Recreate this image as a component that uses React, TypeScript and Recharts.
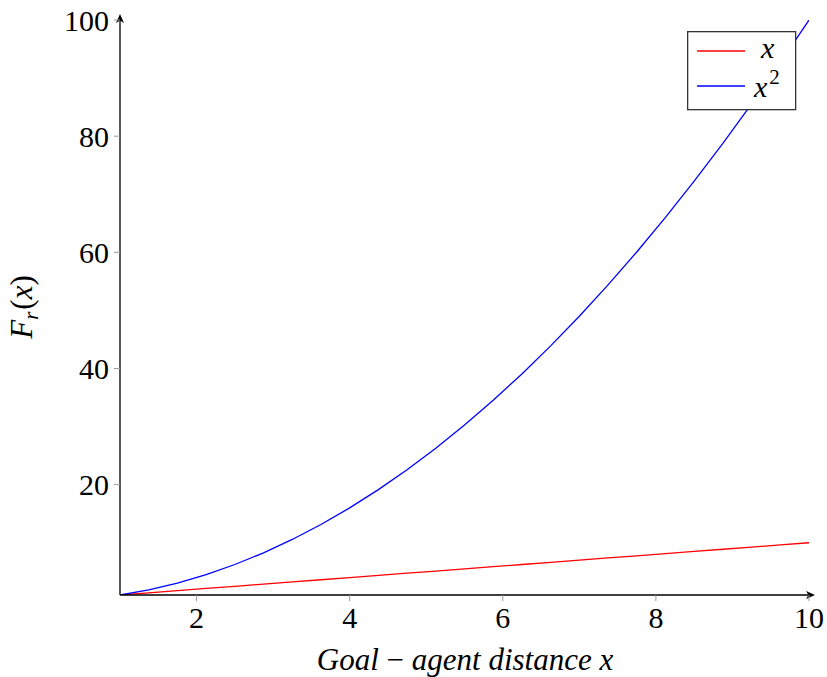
import * as React from "react";
import { LineChart, Line, XAxis, YAxis } from "recharts";

// ── Data (25 samples on [1, 10]) ───────────────────────────────────────
const xs = [
  1, 1.375, 1.75, 2.125, 2.5, 2.875, 3.25, 3.625, 4, 4.375, 4.75, 5.125, 5.5,
  5.875, 6.25, 6.625, 7, 7.375, 7.75, 8.125, 8.5, 8.875, 9.25, 9.625, 10,
];
const linear = [
  1, 1.375, 1.75, 2.125, 2.5, 2.875, 3.25, 3.625, 4, 4.375, 4.75, 5.125, 5.5,
  5.875, 6.25, 6.625, 7, 7.375, 7.75, 8.125, 8.5, 8.875, 9.25, 9.625, 10,
];
const quadratic = [
  1, 1.890625, 3.0625, 4.515625, 6.25, 8.265625, 10.5625, 13.140625, 16,
  19.140625, 22.5625, 26.265625, 30.25, 34.515625, 39.0625, 43.890625, 49,
  54.390625, 60.0625, 66.015625, 72.25, 78.765625, 85.5625, 92.640625, 100,
];
const xTicks = [2, 4, 6, 8, 10];
const yTicks = [20, 40, 60, 80, 100];

const data = xs.map((x, i) => ({ x, lin: linear[i], sq: quadratic[i] }));

const FONT = "'Liberation Serif', 'DejaVu Serif', serif";

// ── Legend box (overlay, top right) ────────────────────────────────────
function BoxLegend() {
  return (
    <svg
      width={110}
      height={80}
      style={{ position: "absolute", left: 687, top: 31 }}
      fontFamily={FONT}
      fontSize={30}
    >
      <rect x={0.65} y={0.65} width={108} height={78} fill="#fff" stroke="#333" strokeWidth={1.3} />
      <line x1={10} x2={58} y1={20} y2={20} stroke="#ff0000" strokeWidth={1.3} />
      <text x={74} y={27} fontStyle="italic">x</text>
      <line x1={10} x2={58} y1={55} y2={55} stroke="#0000ff" strokeWidth={1.3} />
      <text x={67} y={66} fontStyle="italic">
        x
        <tspan fontStyle="normal" fontSize={21} dx={2} dy={-13}>2</tspan>
      </text>
    </svg>
  );
}

function YLabel() {
  return (
    <text
      x={32}
      y={307}
      transform="rotate(-90 32 307)"
      textAnchor="middle"
      fontFamily={FONT}
      fontSize={31}
      fill="#000"
    >
      <tspan fontStyle="italic">F</tspan>
      <tspan fontStyle="italic" fontSize={21} dy={6}>r</tspan>
      <tspan dy={-6} dx={2}>(</tspan>
      <tspan fontStyle="italic">x</tspan>
      <tspan>)</tspan>
    </text>
  );
}

function XLabel() {
  return (
    <text x={465} y={670} textAnchor="middle" fontFamily={FONT} fontSize={31} fill="#000">
      <tspan fontStyle="italic">Goal</tspan>
      <tspan> − </tspan>
      <tspan fontStyle="italic">agent distance x</tspan>
    </text>
  );
}

export default function App() {
  const tick = { fontSize: 30, fill: "#000", fontFamily: FONT };
  return (
    <div style={{ position: "absolute", left: 0, top: 0, background: "#fff" }}>
      <LineChart
        width={827}
        height={677}
        data={data}
        margin={{ top: 20, right: 18, left: 0, bottom: 0 }}
      >
        <defs>
          <marker id="arrowEnd" markerWidth="10" markerHeight="8" refX="3" refY="4" orient="auto" markerUnits="userSpaceOnUse">
            <path d="M0,0 L9,4 L0,8 L2.5,4 Z" fill="#000" />
          </marker>
          <marker id="arrowStart" markerWidth="10" markerHeight="8" refX="3" refY="4" orient="auto-start-reverse" markerUnits="userSpaceOnUse">
            <path d="M0,0 L9,4 L0,8 L2.5,4 Z" fill="#000" />
          </marker>
        </defs>
        <XAxis
          dataKey="x"
          type="number"
          domain={[1, 10]}
          ticks={xTicks}
          height={82}
          tick={tick}
          tickLine={{ stroke: "#999" }}
          tickSize={6}
          tickMargin={6}
          axisLine={{ stroke: "#000", strokeWidth: 1.3, markerEnd: "url(#arrowEnd)" }}
          allowDataOverflow
        />
        <YAxis
          type="number"
          domain={[1, 100]}
          ticks={yTicks}
          width={120}
          tick={tick}
          tickLine={{ stroke: "#999" }}
          tickSize={6}
          tickMargin={5}
          axisLine={{ stroke: "#000", strokeWidth: 1.3, markerStart: "url(#arrowStart)" }}
          allowDataOverflow
        />
        <Line type="linear" dataKey="lin" stroke="#ff0000" strokeWidth={1.3} dot={false} isAnimationActive={false} />
        <Line type="linear" dataKey="sq" stroke="#0000ff" strokeWidth={1.3} dot={false} isAnimationActive={false} />
        <YLabel />
        <XLabel />
      </LineChart>
      <BoxLegend />
    </div>
  );
}
